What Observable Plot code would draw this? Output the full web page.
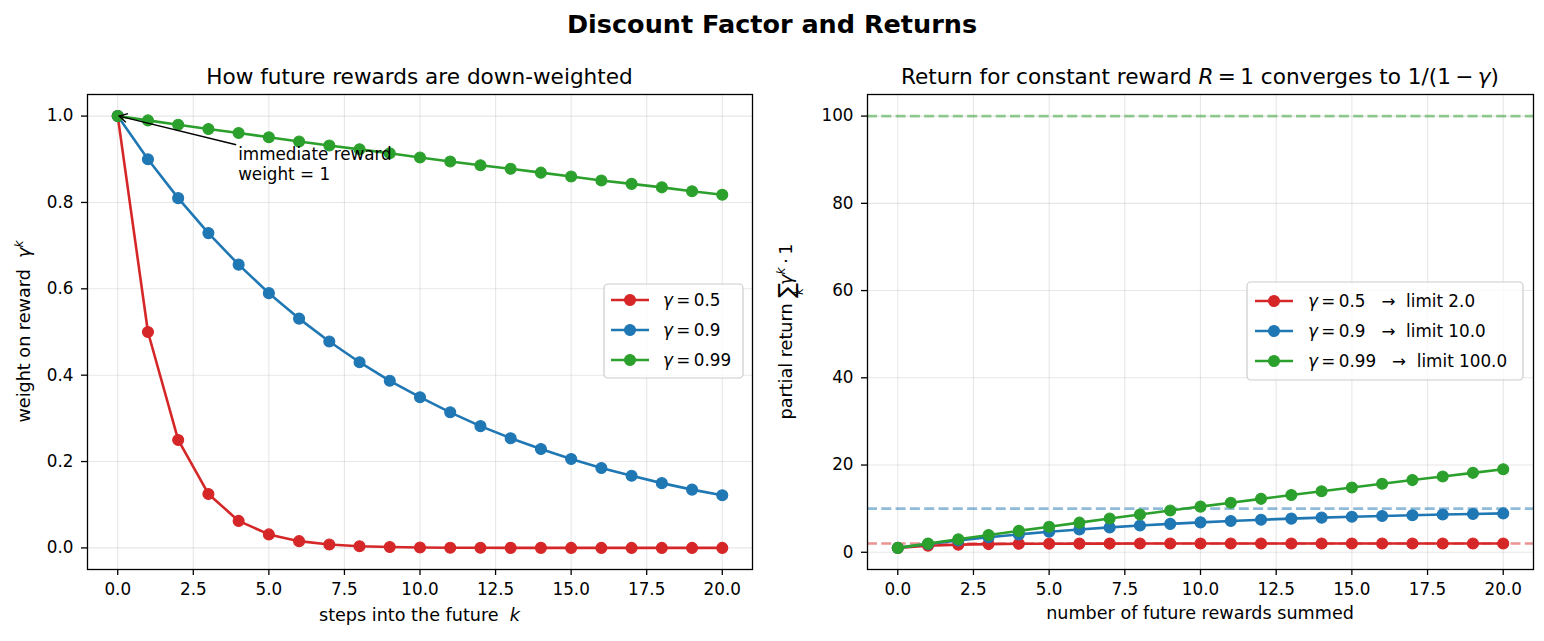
<!DOCTYPE html>
<html>
<head>
<meta charset="utf-8">
<script src="https://cdn.jsdelivr.net/npm/d3@7"></script>
<script src="https://cdn.jsdelivr.net/npm/@observablehq/plot@0.6"></script>
<style>
  html, body { margin: 0; padding: 0; background: #fff; }
  #fig { position: relative; width: 1544px; height: 641px; overflow: hidden; font-family: "DejaVu Sans", sans-serif; }
  #suptitle { position: absolute; left: 0; top: 10px; width: 1544px; text-align: center; font-weight: bold; font-size: 25.5px; line-height: 28px; z-index: 2; color: #000; }
  .panel { position: absolute; top: 0; width: 772px; height: 641px; }
  .panel svg { display: block; max-width: none; }
</style>
</head>
<body>
<div id="fig">
  <div id="suptitle">Discount Factor and Returns</div>
  <div class="panel" id="left" style="left:0px"></div>
  <div class="panel" id="right" style="left:772px"></div>
</div>
<script>
// steps k = 0 … 20
const steps = [0, 1, 2, 3, 4, 5, 6, 7, 8, 9, 10, 11, 12, 13, 14, 15, 16, 17, 18, 19, 20];
const gammaLabels = ["0.5", "0.9", "0.99"];
const limitLabels = ["2.0", "10.0", "100.0"];
const limits = [2.0, 10.0, 100.0];
const colors = ["#d62728", "#1f77b4", "#2ca02c"];

// weight on reward gamma^k
const weight05 = [1, 0.5, 0.25, 0.125, 0.0625, 0.03125, 0.015625, 0.0078, 0.0039, 0.002, 0.001, 0.0005, 0.0002, 0.0001, 0.0001, 0, 0, 0, 0, 0, 0];
const weight09 = [1, 0.9, 0.81, 0.729, 0.656, 0.59, 0.531, 0.478, 0.43, 0.387, 0.349, 0.314, 0.282, 0.254, 0.229, 0.206, 0.185, 0.167, 0.15, 0.135, 0.122];
const weight099 = [1, 0.99, 0.98, 0.97, 0.961, 0.951, 0.941, 0.932, 0.923, 0.914, 0.904, 0.895, 0.886, 0.878, 0.869, 0.86, 0.851, 0.843, 0.835, 0.826, 0.818];

// partial return (sum of the first k+1 weights)
const return05 = [1, 1.5, 1.75, 1.875, 1.94, 1.97, 1.98, 1.99, 2.0, 2.0, 2.0, 2.0, 2.0, 2.0, 2.0, 2.0, 2.0, 2.0, 2.0, 2.0, 2.0];
const return09 = [1, 1.9, 2.71, 3.44, 4.1, 4.69, 5.22, 5.7, 6.13, 6.51, 6.86, 7.18, 7.46, 7.71, 7.94, 8.15, 8.33, 8.5, 8.65, 8.78, 8.91];
const return099 = [1, 1.99, 2.97, 3.94, 4.9, 5.85, 6.79, 7.73, 8.65, 9.56, 10.47, 11.36, 12.25, 13.13, 13.99, 14.85, 15.71, 16.55, 17.38, 18.21, 19.03];

const xTicks = [0, 2.5, 5, 7.5, 10, 12.5, 15, 17.5, 20];
const weightTicks = [0, 0.2, 0.4, 0.6, 0.8, 1.0];
const returnTicks = [0, 20, 40, 60, 80, 100];

// annotation: arrow to the first weight
const annotationPoint = [0, 1];
const annotationTextPos = [4, 0.85];
const annotationLines = ["immediate reward", "weight = 1"];

const FONT = "DejaVu Sans";
const TICK_PX = "16.8px";
const LABEL_PX = "17.6px";
const TITLE_PX = "21.6px";

function rows(values) {
  return steps.map((k, j) => ({k, v: values[j]}));
}

function seriesMarks(seriesList) {
  return seriesList.flatMap((vals, i) => {
    const d = rows(vals);
    return [
      Plot.line(d, {x: "k", y: "v", stroke: colors[i], strokeWidth: 2.6}),
      Plot.dot(d, {x: "k", y: "v", r: 5.5, fill: colors[i], stroke: colors[i], strokeWidth: 1.1})
    ];
  });
}

function panel({seriesList, yDomain, yTicks, yFormat, marginLeft, marginRight, limitLines}) {
  const grid = {stroke: "#b0b0b0", strokeOpacity: 0.3, strokeWidth: 1.1};
  const marks = [
    Plot.gridX(xTicks, grid),
    Plot.gridY(yTicks, grid)
  ];
  if (limitLines) {
    limitLines.forEach((L, i) => marks.push(
      Plot.ruleY([L], {stroke: colors[i], strokeOpacity: 0.5, strokeWidth: 2.6, strokeDasharray: "10,4.3"})
    ));
  }
  marks.push(...seriesMarks(seriesList));
  marks.push(Plot.frame({stroke: "#000", strokeWidth: 1.3}));
  marks.push(Plot.axisX(xTicks, {tickSize: 6, tickPadding: 8, tickFormat: d => d.toFixed(1), label: null, strokeWidth: 1.3}));
  marks.push(Plot.axisY(yTicks, {tickSize: 6, tickPadding: 8, tickFormat: yFormat, label: null, strokeWidth: 1.3}));
  return Plot.plot({
    width: 772, height: 641,
    marginTop: 94, marginBottom: 72, marginLeft, marginRight,
    x: {domain: [-1, 21]},
    y: {domain: yDomain},
    style: {fontFamily: FONT, fontSize: TICK_PX, color: "#000", background: "transparent", overflow: "visible"},
    marks
  });
}

// text with italic / shifted segments
function richText(parent, attrs, segments) {
  const t = parent.append("text").attr("text-anchor", "start");
  Object.entries(attrs).forEach(([k, v]) => t.attr(k, v));
  segments.forEach(s => {
    const ts = t.append("tspan").text(s.t);
    if (s.italic) ts.attr("font-style", "italic");
    if (s.dx != null) ts.attr("dx", s.dx);
    if (s.dy != null) ts.attr("dy", s.dy);
    if (s.size) ts.attr("font-size", s.size);
  });
  return t;
}

function legend(svg, box, labels) {
  const g = svg.append("g").attr("font-family", FONT).attr("font-size", TICK_PX);
  g.append("rect").attr("x", box.x).attr("y", box.y).attr("width", box.w).attr("height", box.h)
    .attr("rx", 4).attr("fill", "#fff").attr("fill-opacity", 0.8).attr("stroke", "#cccccc").attr("stroke-width", 1.2);
  labels.forEach((segs, i) => {
    const y = box.row0 + i * box.step;
    g.append("line").attr("x1", box.l0).attr("x2", box.l1).attr("y1", y).attr("y2", y)
      .attr("stroke", colors[i]).attr("stroke-width", 2.6);
    g.append("circle").attr("cx", (box.l0 + box.l1) / 2).attr("cy", y).attr("r", 5.5)
      .attr("fill", colors[i]).attr("stroke", colors[i]).attr("stroke-width", 1.1);
    richText(g, {x: box.tx, y: y + 6}, segs);
  });
}

// ---------- left panel: weights ----------
const leftPlot = panel({
  seriesList: [weight05, weight09, weight099],
  yDomain: [-0.05, 1.05], yTicks: weightTicks, yFormat: d => d.toFixed(1),
  marginLeft: 87, marginRight: 20
});
document.getElementById("left").appendChild(leftPlot);
{
  const svg = d3.select(leftPlot);
  const sx = leftPlot.scale("x"), sy = leftPlot.scale("y");
  const cx = (sx.range[0] + sx.range[1]) / 2;
  const cy = (sy.range[0] + sy.range[1]) / 2;
  richText(svg, {x: cx, y: 84, "text-anchor": "middle", "font-family": FONT, "font-size": TITLE_PX},
    [{t: "How future rewards are down-weighted"}]);
  richText(svg, {x: cx, y: 621, "text-anchor": "middle", "font-family": FONT, "font-size": LABEL_PX},
    [{t: "steps into the future\u00a0\u00a0"}, {t: "k", italic: true}]);
  richText(svg, {transform: `translate(30,${cy}) rotate(-90)`, "text-anchor": "middle", "font-family": FONT, "font-size": LABEL_PX},
    [{t: "weight on reward\u00a0\u00a0"}, {t: "\u03b3", italic: true}, {t: "k", italic: true, dy: -7, size: "12.3px"}]);

  legend(svg, {x: 604, y: 284, w: 139, h: 94, row0: 300, step: 30, l0: 611, l1: 649, tx: 663},
    gammaLabels.map(g => [{t: "\u03b3", italic: true}, {t: "\u2009=\u2009" + g}]));

  // annotation text and arrow
  const tx = sx.apply(annotationTextPos[0]), ty = sy.apply(annotationTextPos[1]);
  const at = svg.append("text").attr("text-anchor", "start").attr("font-family", FONT).attr("font-size", TICK_PX);
  annotationLines.forEach((line, i) => {
    at.append("tspan").attr("x", tx).attr("y", ty - (annotationLines.length - 1 - i) * 20.5).text(line);
  });
  const bb = at.node().getBBox();
  const c = [bb.x + bb.width / 2, bb.y + bb.height / 2];
  const p = [sx.apply(annotationPoint[0]), sy.apply(annotationPoint[1])];
  const d = [p[0] - c[0], p[1] - c[1]];
  const len = Math.hypot(d[0], d[1]);
  const u = [d[0] / len, d[1] / len];
  const tExit = Math.min(Math.abs(bb.width / 2 / d[0]) || Infinity, Math.abs(bb.height / 2 / d[1]) || Infinity);
  const s = [c[0] + d[0] * tExit + u[0] * 2, c[1] + d[1] * tExit + u[1] * 2];
  const e = [p[0] - u[0] * 2, p[1] - u[1] * 2];
  const ag = svg.append("g").attr("stroke", "#000").attr("stroke-width", 1.4).attr("fill", "none");
  ag.append("line").attr("x1", s[0]).attr("y1", s[1]).attr("x2", e[0]).attr("y2", e[1]);
  const hl = 8, hw = 4.5;
  const n = [-u[1], u[0]];
  const b = [e[0] - u[0] * hl, e[1] - u[1] * hl];
  ag.append("path").attr("d",
    `M${b[0] + n[0] * hw},${b[1] + n[1] * hw}L${e[0]},${e[1]}L${b[0] - n[0] * hw},${b[1] - n[1] * hw}`);
}

// ---------- right panel: partial returns ----------
const rightPlot = panel({
  seriesList: [return05, return09, return099],
  yDomain: [-3.95, 104.95], yTicks: returnTicks, yFormat: d => d.toFixed(0),
  marginLeft: 95, marginRight: 11, limitLines: limits
});
document.getElementById("right").appendChild(rightPlot);
{
  const svg = d3.select(rightPlot);
  const sx = rightPlot.scale("x"), sy = rightPlot.scale("y");
  const cx = (sx.range[0] + sx.range[1]) / 2;
  const cy = (sy.range[0] + sy.range[1]) / 2;
  richText(svg, {x: cx, y: 84, "text-anchor": "middle", "font-family": FONT, "font-size": TITLE_PX},
    [{t: "Return for constant reward "}, {t: "R", italic: true}, {t: "\u2009=\u20091 converges to 1/(1\u2009\u2212\u2009"},
     {t: "\u03b3", italic: true}, {t: ")"}]);
  richText(svg, {x: cx, y: 619, "text-anchor": "middle", "font-family": FONT, "font-size": LABEL_PX},
    [{t: "number of future rewards summed"}]);
  richText(svg, {transform: `translate(20,${cy}) rotate(-90)`, "text-anchor": "middle", "font-family": FONT, "font-size": LABEL_PX},
    [{t: "partial return "}, {t: "\u2211", size: "22px", dy: 2},
     {t: "k", italic: true, size: "12.3px", dx: -12, dy: 9},
     {t: "\u03b3", italic: true, dx: 3, dy: -11},
     {t: "k", italic: true, size: "12.3px", dy: -7},
     {t: "\u2009\u00b7\u20091", dy: 7}]);

  legend(svg, {x: 1247 - 772, y: 282, w: 276, h: 98, row0: 301, step: 30, l0: 1255 - 772, l1: 1293 - 772, tx: 1308 - 772},
    gammaLabels.map((g, i) => [{t: "\u03b3", italic: true}, {t: "\u2009=\u2009" + g + "\u00a0\u00a0\u00a0\u2192\u00a0 limit " + limitLabels[i]}]));
}
</script>
</body>
</html>
